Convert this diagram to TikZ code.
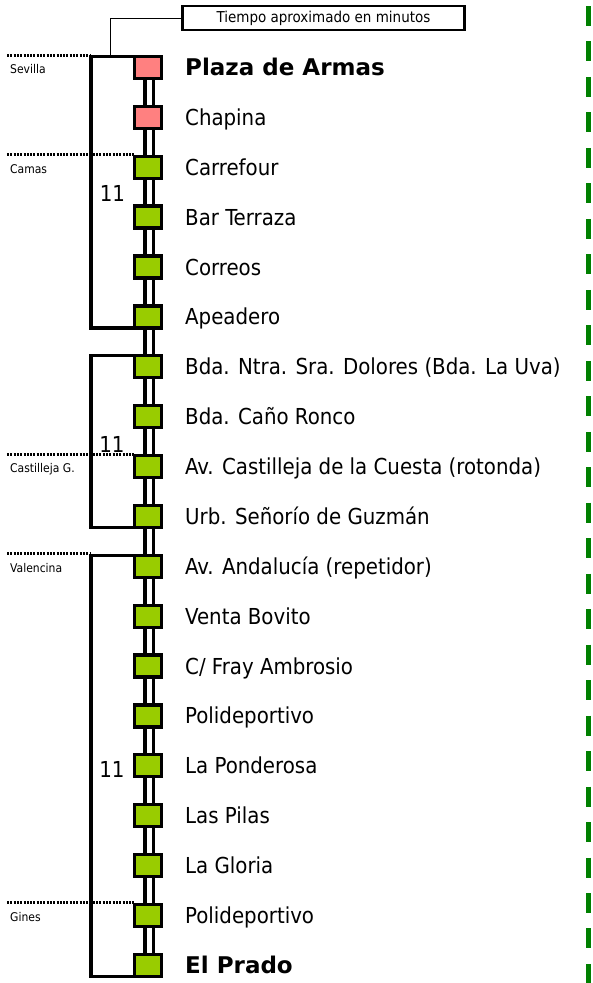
\documentclass[tikz,border=0pt]{standalone}
\usepackage{fontspec}
\setmainfont{DejaVu Sans Condensed}
\newfontfamily\widefont{DejaVu Sans}
\usetikzlibrary{backgrounds}
\definecolor{pinkbox}{RGB}{255,128,128}
\definecolor{greenbox}{RGB}{153,204,0}
\definecolor{dashgreen}{RGB}{0,128,0}
\begin{document}
\begin{tikzpicture}[x=1pt,y=-1pt,
  stopbox/.style={draw=black,line width=3.3pt,minimum width=27pt,minimum height=22pt,inner sep=0pt,outer sep=0pt},
  sname/.style={anchor=base west,inner sep=0pt,font=\fontsize{22}{26}\selectfont},
  bname/.style={anchor=base west,inner sep=0pt,font=\widefont\bfseries\fontsize{23}{27}\selectfont},
  town/.style={anchor=base west,inner sep=0pt,font=\fontsize{12}{14}\selectfont},
  mins/.style={inner sep=0pt,font=\fontsize{22}{26}\selectfont},
  rail/.style={draw=black,double=white,double distance=5pt,line width=3.3pt},
  bracket/.style={draw=black,line width=3.3pt,line join=miter},
  dotline/.style={draw=black,line width=3pt,dash pattern=on 2pt off 1.3pt},
  lead/.style={draw=black,line width=1pt},
  titlebox/.style={draw=black,line width=2.8pt,minimum width=282pt,minimum height=24pt,inner sep=0pt,outer sep=0pt,font=\fontsize{15}{18}\selectfont},
  gdash/.style={draw=dashgreen,line width=5pt,dash pattern=on 20pt off 15.48pt}]
\useasboundingbox (0,0) rectangle (593,983);

% stop boxes
\foreach \i in {1,...,19}{
  \pgfmathsetmacro\yy{67.5+49.88*(\i-1)}
  \ifnum\i<3 \def\cc{pinkbox}\else\def\cc{greenbox}\fi
  \node[stopbox,fill=\cc] (s\i) at (148,\yy) {};
}

% rail behind boxes
\begin{scope}[on background layer]
  \draw[rail] ([xshift=1pt]s1.center) -- ([xshift=1pt]s19.center);
\end{scope}

% station names
\node[bname] (n1) at ([shift={(37,8)}]s1.center) {Plaza de Armas};
\node[sname] (n2) at ([shift={(37,8)}]s2.center) {Chapina};
\node[sname] (n3) at ([shift={(37,8)}]s3.center) {Carrefour};
\node[sname] (n4) at ([shift={(37,8)}]s4.center) {Bar Terraza};
\node[sname] (n5) at ([shift={(37,8)}]s5.center) {Correos};
\node[sname] (n6) at ([shift={(37,8)}]s6.center) {Apeadero};
\node[sname] (n7) at ([shift={(37,8)}]s7.center) {Bda. Ntra. Sra. Dolores (Bda. La Uva)};
\node[sname] (n8) at ([shift={(37,8)}]s8.center) {Bda. Caño Ronco};
\node[sname] (n9) at ([shift={(37,8)}]s9.center) {Av. Castilleja de la Cuesta (rotonda)};
\node[sname] (n10) at ([shift={(37,8)}]s10.center) {Urb. Señorío de Guzmán};
\node[sname] (n11) at ([shift={(37,8)}]s11.center) {Av. Andalucía (repetidor)};
\node[sname] (n12) at ([shift={(37,8)}]s12.center) {Venta Bovito};
\node[sname] (n13) at ([shift={(37,8)}]s13.center) {C/ Fray Ambrosio};
\node[sname] (n14) at ([shift={(37,8)}]s14.center) {Polideportivo};
\node[sname] (n15) at ([shift={(37,8)}]s15.center) {La Ponderosa};
\node[sname] (n16) at ([shift={(37,8)}]s16.center) {Las Pilas};
\node[sname] (n17) at ([shift={(37,8)}]s17.center) {La Gloria};
\node[sname] (n18) at ([shift={(37,8)}]s18.center) {Polideportivo};
\node[bname] (n19) at ([shift={(37,8)}]s19.center) {El Prado};

% brackets
\coordinate (bx) at (91,0);
\draw[bracket] (s1.north west) -- (bx |- s1.north west) -- (bx |- s6.south west) -- (s6.south west);
\draw[bracket] (s7.north west) -- (bx |- s7.north west) -- (bx |- s10.south west) -- (s10.south west);
\draw[bracket] (s11.north west) -- (bx |- s11.north west) -- (bx |- s19.south west) -- (s19.south west);

% minutes
\node[mins] (m1) at (112.5,193) {11};
\node[mins] (m2) at (112,444) {11};
\node[mins] (m3) at (112,769) {11};

% town boundaries
\coordinate (lx) at (7,0);
\draw[dotline] ([yshift=1.5pt]lx |- s1.north west) -- ([yshift=1.5pt]bx |- s1.north west);
\draw[dotline] ([yshift=1.5pt]lx |- s3.north west) -- ([yshift=1.5pt]s3.north west);
\draw[dotline] ([yshift=1.5pt]lx |- s9.north west) -- ([yshift=1.5pt]s9.north west);
\draw[dotline] ([yshift=1.5pt]lx |- s11.north west) -- ([yshift=1.5pt]bx |- s11.north west);
\draw[dotline] ([yshift=1.5pt]lx |- s18.north west) -- ([yshift=1.5pt]s18.north west);
\node[town] (t1) at (10,73.5) {Sevilla};
\node[town] (t2) at (10,173.5) {Camas};
\node[town] (t3) at (10,472.5) {Castilleja G.};
\node[town] (t4) at (10,572.5) {Valencina};
\node[town] (t5) at (10,921.5) {Gines};

% title
\node[titlebox] (title) at (323.5,18) {Tiempo aproximado en minutos};
\coordinate (leadx) at (110,0);
\draw[lead] (title.west) -| (leadx |- s1.north west);

% green dashed edge
\coordinate (g1) at (588.5,6);
\coordinate (g2) at (588.5,990);
\draw[gdash] (g1) -- (g2);
\end{tikzpicture}
\end{document}
